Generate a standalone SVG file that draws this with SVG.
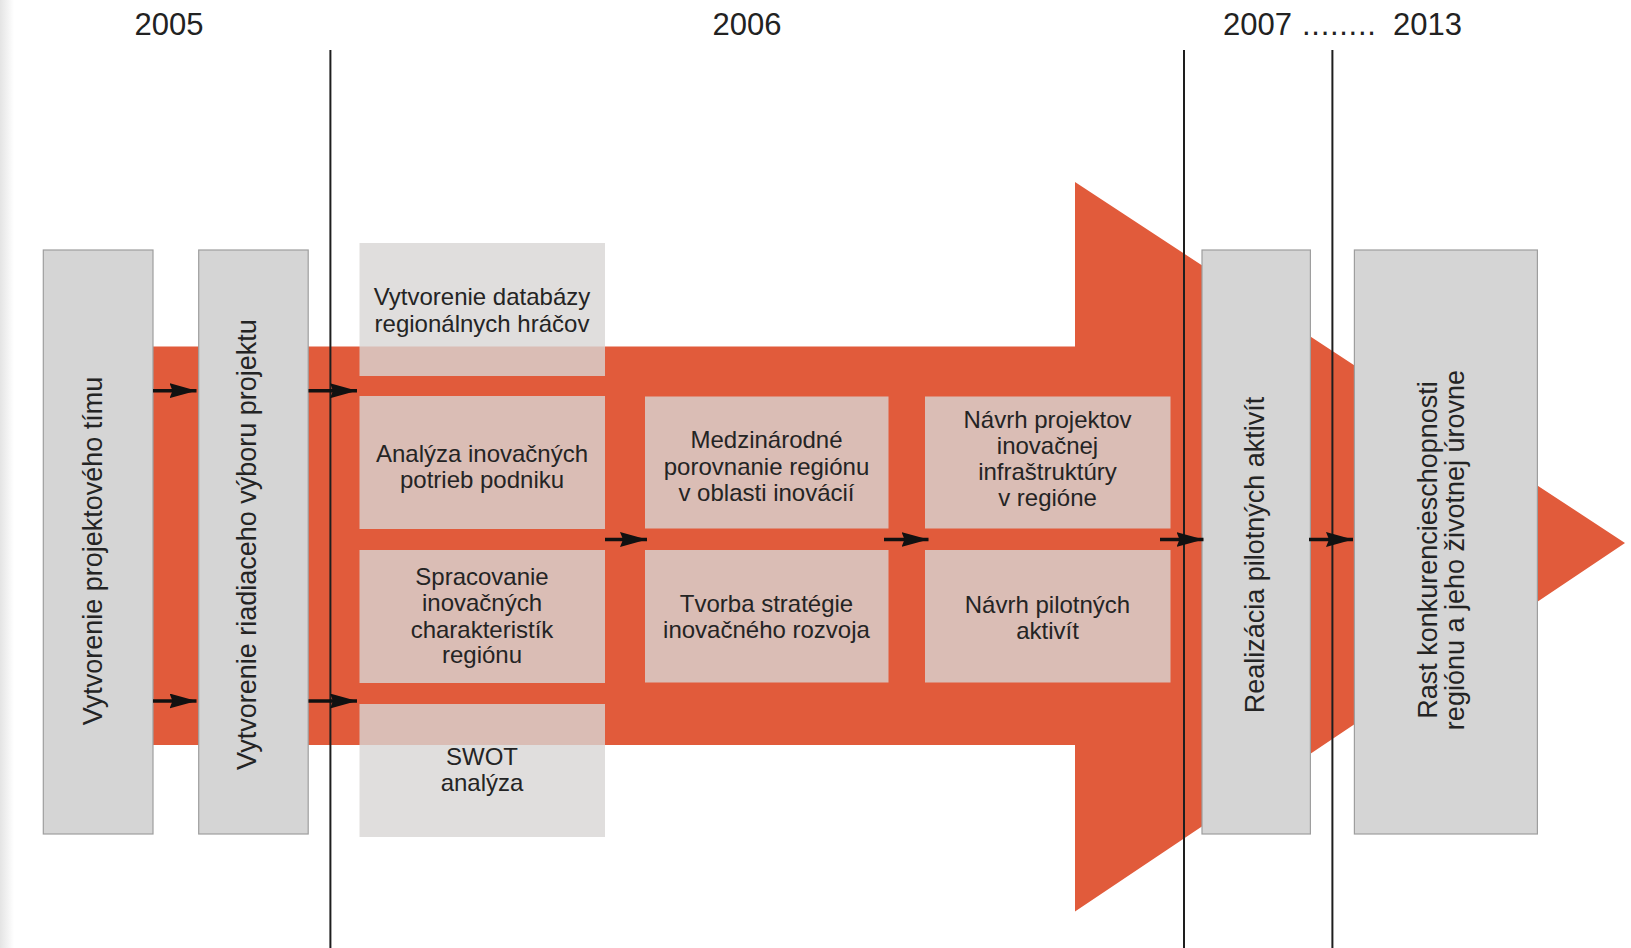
<svg xmlns="http://www.w3.org/2000/svg" width="1631" height="948" viewBox="0 0 1631 948">
  <defs>
    <linearGradient id="edge" x1="0" y1="0" x2="1" y2="0">
      <stop offset="0" stop-color="#e4e4e4"/>
      <stop offset="1" stop-color="#ffffff"/>
    </linearGradient>
    <marker id="ah" markerUnits="userSpaceOnUse" markerWidth="30" markerHeight="16" refX="27" refY="7.5" orient="auto">
      <path d="M0,0 L27,7.5 L0,15 L3,7.5 z" fill="#111"/>
    </marker>
    <style>
      .yr { font-family: "Liberation Sans", Arial, sans-serif; font-size: 31px; fill: #222; }
      .tall { fill: #d5d5d5; stroke: #9e9e9e; stroke-width: 1.2; }
      .inner { fill: #d8d6d4; fill-opacity: 0.8; }
      .t { font-family: "Liberation Sans", Arial, sans-serif; font-size: 24px; fill: #242424; text-anchor: middle; }
      .rt { font-family: "Liberation Sans", Arial, sans-serif; font-size: 27px; fill: #242424; text-anchor: middle; }
      .vl { stroke: #1e1e1e; stroke-width: 2; }
      .ar { stroke: #111; stroke-width: 3.5; fill: none; marker-end: url(#ah); }
    </style>
  </defs>

  <rect x="0" y="0" width="1631" height="948" fill="#ffffff"/>
  <rect x="0" y="0" width="14" height="948" fill="url(#edge)"/>

  <g id="backbone-arrow">
    <polygon points="100,346.5 1075,346.5 1075,182 1625,543 1075,911.5 1075,745 100,745" fill="#e15b3b"/>
  </g>

  <g id="n-projektovy-tim">
    <rect class="tall" x="43.3" y="250" width="109.7" height="584"/>
    <text class="rt" transform="translate(102,551) rotate(-90)">Vytvorenie projektového tímu</text>
  </g>
  <g id="n-riadiaci-vybor">
    <rect class="tall" x="198.7" y="250" width="109.5" height="584"/>
    <text class="rt" transform="translate(256,544.5) rotate(-90)">Vytvorenie riadiaceho výboru projektu</text>
  </g>

  <g id="n-databaza">
    <rect class="inner" x="359.5" y="243" width="245.5" height="133"/>
    <text class="t" x="482" y="305">Vytvorenie databázy</text>
    <text class="t" x="482" y="331.5">regionálnych hráčov</text>
  </g>
  <g id="n-analyza">
    <rect class="inner" x="359.5" y="396" width="245.5" height="133"/>
    <text class="t" x="482" y="462">Analýza inovačných</text>
    <text class="t" x="482" y="488">potrieb podniku</text>
  </g>
  <g id="n-spracovanie">
    <rect class="inner" x="359.5" y="550" width="245.5" height="133"/>
    <text class="t" x="482" y="585">Spracovanie</text>
    <text class="t" x="482" y="611">inovačných</text>
    <text class="t" x="482" y="637.5">charakteristík</text>
    <text class="t" x="482" y="663">regiónu</text>
  </g>
  <g id="n-swot">
    <rect class="inner" x="359.5" y="704" width="245.5" height="133"/>
    <text class="t" x="482" y="765">SWOT</text>
    <text class="t" x="482" y="790.5">analýza</text>
  </g>

  <g id="n-medzinarodne">
    <rect class="inner" x="645" y="396.5" width="243.5" height="132"/>
    <text class="t" x="766.5" y="448">Medzinárodné</text>
    <text class="t" x="766.5" y="474.5">porovnanie regiónu</text>
    <text class="t" x="766.5" y="500.5">v oblasti inovácií</text>
  </g>
  <g id="n-tvorba">
    <rect class="inner" x="645" y="550" width="243.5" height="132.5"/>
    <text class="t" x="766.5" y="611.5">Tvorba stratégie</text>
    <text class="t" x="766.5" y="638">inovačného rozvoja</text>
  </g>

  <g id="n-navrh-projektov">
    <rect class="inner" x="925" y="396.5" width="245.5" height="132"/>
    <text class="t" x="1047.5" y="428">Návrh projektov</text>
    <text class="t" x="1047.5" y="454">inovačnej</text>
    <text class="t" x="1047.5" y="480">infraštruktúry</text>
    <text class="t" x="1047.5" y="506">v regióne</text>
  </g>
  <g id="n-navrh-pilotnych">
    <rect class="inner" x="925" y="550" width="245.5" height="132.5"/>
    <text class="t" x="1047.5" y="613">Návrh pilotných</text>
    <text class="t" x="1047.5" y="639">aktivít</text>
  </g>

  <g id="n-realizacia">
    <rect class="tall" x="1202" y="250" width="108.4" height="584"/>
    <text class="rt" transform="translate(1263.5,555) rotate(-90)">Realizácia pilotných aktivít</text>
  </g>
  <g id="n-rast">
    <rect class="tall" x="1354.4" y="250" width="183" height="584"/>
    <text class="rt" transform="translate(1436.5,550) rotate(-90)">Rast konkurencieschopnosti</text>
    <text class="rt" transform="translate(1463.5,550) rotate(-90)">regiónu a jeho životnej úrovne</text>
  </g>

  <g id="timeline">
    <line class="vl" x1="330.4" y1="50" x2="330.4" y2="948"/>
    <line class="vl" x1="1184" y1="50" x2="1184" y2="948"/>
    <line class="vl" x1="1332.4" y1="50" x2="1332.4" y2="948"/>
    <text class="yr" x="169" y="35" text-anchor="middle">2005</text>
    <text class="yr" x="747" y="35" text-anchor="middle">2006</text>
    <text class="yr" y="35"><tspan x="1223">2007</tspan><tspan x="1302" letter-spacing="0.7">........</tspan><tspan x="1393">2013</tspan></text>
  </g>

  <g id="connectors">
    <line class="ar" x1="153" y1="390.7" x2="196.5" y2="390.7"/>
    <line class="ar" x1="308.5" y1="390.7" x2="357" y2="390.7"/>
    <line class="ar" x1="153" y1="701" x2="196.5" y2="701"/>
    <line class="ar" x1="308.5" y1="701" x2="357" y2="701"/>
    <line class="ar" x1="605" y1="539.5" x2="647" y2="539.5"/>
    <line class="ar" x1="884" y1="539.5" x2="928.5" y2="539.5"/>
    <line class="ar" x1="1160" y1="539.5" x2="1203.5" y2="539.5"/>
    <line class="ar" x1="1309" y1="539.5" x2="1353" y2="539.5"/>
  </g>
</svg>
